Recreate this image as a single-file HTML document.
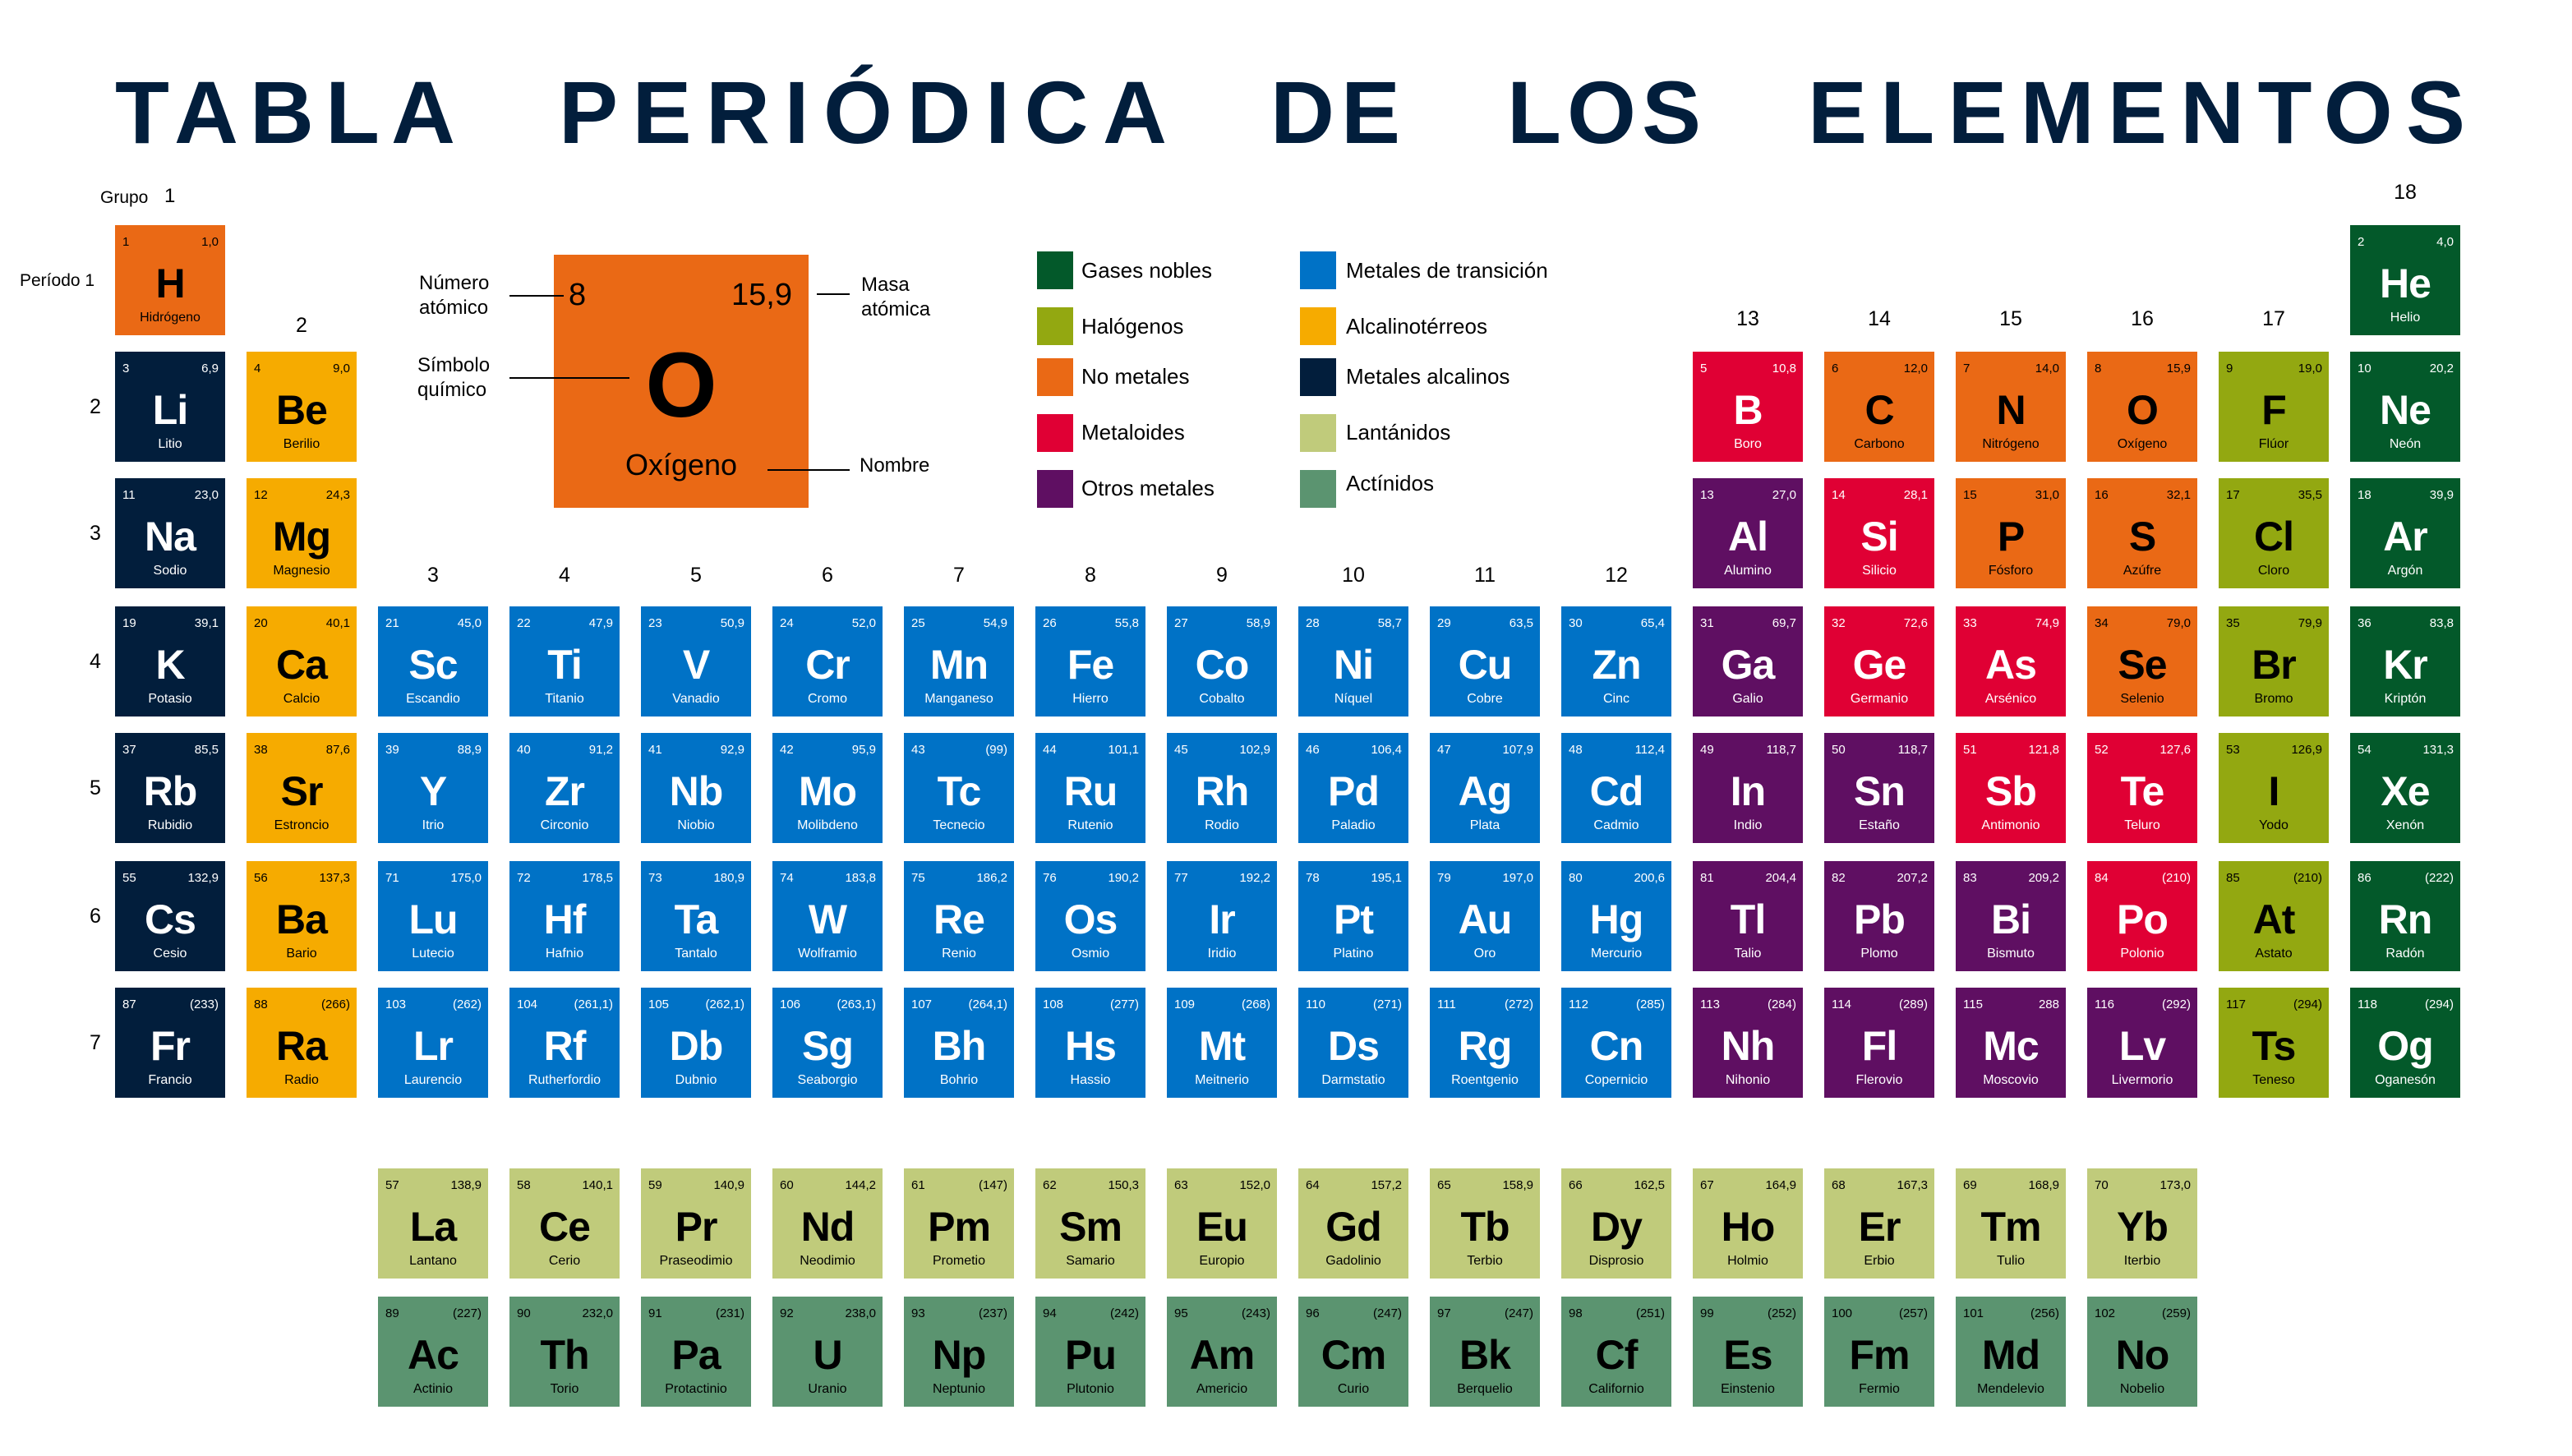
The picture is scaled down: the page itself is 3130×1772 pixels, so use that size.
<!DOCTYPE html>
<html><head><meta charset="utf-8">
<style>
*{box-sizing:border-box}
body{margin:0;width:3130px;height:1772px;background:#fff;position:relative;overflow:hidden;font-family:"Liberation Sans",sans-serif;color:#000}
.c{position:absolute;width:134px;height:134px;color:#000}
.c i{position:absolute;left:9px;top:13px;font:15px/15px "Liberation Sans",sans-serif;font-style:normal}
.c b{position:absolute;right:8px;top:13px;font:15px/15px "Liberation Sans",sans-serif;font-weight:normal}
.c p{position:absolute;left:0;right:0;top:46px;margin:0;text-align:center;font:bold 50px/50px "Liberation Sans",sans-serif;letter-spacing:-1px}
.c u{position:absolute;left:0;right:0;top:104px;text-align:center;font:16px/17px "Liberation Sans",sans-serif;text-decoration:none}
.am{background:#021e3c;color:#fff}
.ae{background:#f6ab00}
.tm{background:#0072c6;color:#fff}
.nm{background:#ea6915}
.hal{background:#93a811}
.ng{background:#03592a;color:#fff}
.md{background:#e00034;color:#fff}
.om{background:#5f0f62;color:#fff}
.la{background:#c0cb7b}
.ac{background:#5b9470}
.t{position:absolute;font-size:24px;line-height:24px;color:#000}
.g{position:absolute;font-size:25px;line-height:25px;width:60px;text-align:center}
.lg{position:absolute;width:44px;height:46px}
.lt{position:absolute;font-size:26px;line-height:26px}
.ln{position:absolute;height:2px;background:#000}
</style></head><body>

<svg style="position:absolute;left:0;top:0" width="3130" height="220">
<g font-family="Liberation Sans, sans-serif" font-weight="bold" font-size="108" fill="#021e3c">
<text x="140" y="174" textLength="414" lengthAdjust="spacing">TABLA</text>
<text x="680" y="174" textLength="740" lengthAdjust="spacing">PERIÓDICA</text>
<text x="1546" y="174" textLength="158" lengthAdjust="spacing">DE</text>
<text x="1834" y="174" textLength="236" lengthAdjust="spacing">LOS</text>
<text x="2200" y="174" textLength="800" lengthAdjust="spacing">ELEMENTOS</text>
</g></svg>

<!-- group/period labels -->
<div class="t" style="left:122px;top:229px;font-size:21px">Grupo</div>
<div class="t" style="left:200px;top:227px">1</div>
<div class="t" style="left:24px;top:330px;font-size:21px">Período 1</div>
<div class="g" style="left:337px;top:384px">2</div>
<div class="g" style="left:497px;top:688px">3</div>
<div class="g" style="left:657px;top:688px">4</div>
<div class="g" style="left:817px;top:688px">5</div>
<div class="g" style="left:977px;top:688px">6</div>
<div class="g" style="left:1137px;top:688px">7</div>
<div class="g" style="left:1297px;top:688px">8</div>
<div class="g" style="left:1457px;top:688px">9</div>
<div class="g" style="left:1617px;top:688px">10</div>
<div class="g" style="left:1777px;top:688px">11</div>
<div class="g" style="left:1937px;top:688px">12</div>
<div class="g" style="left:2097px;top:376px">13</div>
<div class="g" style="left:2257px;top:376px">14</div>
<div class="g" style="left:2417px;top:376px">15</div>
<div class="g" style="left:2577px;top:376px">16</div>
<div class="g" style="left:2737px;top:376px">17</div>
<div class="g" style="left:2897px;top:222px">18</div>
<div class="g" style="left:86px;top:483px">2</div>
<div class="g" style="left:86px;top:637px">3</div>
<div class="g" style="left:86px;top:793px">4</div>
<div class="g" style="left:86px;top:947px">5</div>
<div class="g" style="left:86px;top:1103px">6</div>
<div class="g" style="left:86px;top:1257px">7</div>

<!-- example -->
<div style="position:absolute;left:674px;top:310px;width:310px;height:308px;background:#ea6915"></div>
<div style="position:absolute;left:692px;top:340px;font-size:38px;line-height:38px">8</div>
<div style="position:absolute;left:864px;top:340px;width:100px;text-align:right;font-size:38px;line-height:38px">15,9</div>
<div style="position:absolute;left:674px;top:413px;width:310px;text-align:center;font-weight:bold;font-size:112px;line-height:112px">O</div>
<div style="position:absolute;left:674px;top:548px;width:310px;text-align:center;font-size:36px;line-height:36px">Oxígeno</div>
<div class="t" style="left:510px;top:333px">Número</div>
<div class="t" style="left:510px;top:363px">atómico</div>
<div class="ln" style="left:620px;top:359px;width:66px"></div>
<div class="t" style="left:508px;top:433px">Símbolo</div>
<div class="t" style="left:508px;top:463px">químico</div>
<div class="ln" style="left:620px;top:459px;width:146px"></div>
<div class="t" style="left:1048px;top:335px">Masa</div>
<div class="t" style="left:1048px;top:365px">atómica</div>
<div class="ln" style="left:994px;top:357px;width:40px"></div>
<div class="t" style="left:1046px;top:555px">Nombre</div>
<div class="ln" style="left:934px;top:571px;width:100px"></div>

<!-- legend -->
<div class="lg" style="left:1262px;top:306px;background:#03592a"></div><div class="lt" style="left:1316px;top:316px">Gases nobles</div>
<div class="lg" style="left:1262px;top:374px;background:#93a811"></div><div class="lt" style="left:1316px;top:384px">Halógenos</div>
<div class="lg" style="left:1262px;top:436px;background:#ea6915"></div><div class="lt" style="left:1316px;top:445px">No metales</div>
<div class="lg" style="left:1262px;top:504px;background:#e00034"></div><div class="lt" style="left:1316px;top:513px">Metaloides</div>
<div class="lg" style="left:1262px;top:572px;background:#5f0f62"></div><div class="lt" style="left:1316px;top:581px">Otros metales</div>
<div class="lg" style="left:1582px;top:306px;background:#0072c6"></div><div class="lt" style="left:1638px;top:316px">Metales de transición</div>
<div class="lg" style="left:1582px;top:374px;background:#f6ab00"></div><div class="lt" style="left:1638px;top:384px">Alcalinotérreos</div>
<div class="lg" style="left:1582px;top:436px;background:#021e3c"></div><div class="lt" style="left:1638px;top:445px">Metales alcalinos</div>
<div class="lg" style="left:1582px;top:504px;background:#c0cb7b"></div><div class="lt" style="left:1638px;top:513px">Lantánidos</div>
<div class="lg" style="left:1582px;top:572px;background:#5b9470"></div><div class="lt" style="left:1638px;top:575px">Actínidos</div>

<!-- row 1 -->
<div class="c nm" style="left:140px;top:274px"><i>1</i><b>1,0</b><p>H</p><u>Hidrógeno</u></div>
<div class="c ng" style="left:2860px;top:274px"><i>2</i><b>4,0</b><p>He</p><u>Helio</u></div>
<!-- row 2 -->
<div class="c am" style="left:140px;top:428px"><i>3</i><b>6,9</b><p>Li</p><u>Litio</u></div>
<div class="c ae" style="left:300px;top:428px"><i>4</i><b>9,0</b><p>Be</p><u>Berilio</u></div>
<div class="c md" style="left:2060px;top:428px"><i>5</i><b>10,8</b><p>B</p><u>Boro</u></div>
<div class="c nm" style="left:2220px;top:428px"><i>6</i><b>12,0</b><p>C</p><u>Carbono</u></div>
<div class="c nm" style="left:2380px;top:428px"><i>7</i><b>14,0</b><p>N</p><u>Nitrógeno</u></div>
<div class="c nm" style="left:2540px;top:428px"><i>8</i><b>15,9</b><p>O</p><u>Oxígeno</u></div>
<div class="c hal" style="left:2700px;top:428px"><i>9</i><b>19,0</b><p>F</p><u>Flúor</u></div>
<div class="c ng" style="left:2860px;top:428px"><i>10</i><b>20,2</b><p>Ne</p><u>Neón</u></div>
<!-- row 3 -->
<div class="c am" style="left:140px;top:582px"><i>11</i><b>23,0</b><p>Na</p><u>Sodio</u></div>
<div class="c ae" style="left:300px;top:582px"><i>12</i><b>24,3</b><p>Mg</p><u>Magnesio</u></div>
<div class="c om" style="left:2060px;top:582px"><i>13</i><b>27,0</b><p>Al</p><u>Alumino</u></div>
<div class="c md" style="left:2220px;top:582px"><i>14</i><b>28,1</b><p>Si</p><u>Silicio</u></div>
<div class="c nm" style="left:2380px;top:582px"><i>15</i><b>31,0</b><p>P</p><u>Fósforo</u></div>
<div class="c nm" style="left:2540px;top:582px"><i>16</i><b>32,1</b><p>S</p><u>Azúfre</u></div>
<div class="c hal" style="left:2700px;top:582px"><i>17</i><b>35,5</b><p>Cl</p><u>Cloro</u></div>
<div class="c ng" style="left:2860px;top:582px"><i>18</i><b>39,9</b><p>Ar</p><u>Argón</u></div>
<!-- row 4 -->
<div class="c am" style="left:140px;top:738px"><i>19</i><b>39,1</b><p>K</p><u>Potasio</u></div>
<div class="c ae" style="left:300px;top:738px"><i>20</i><b>40,1</b><p>Ca</p><u>Calcio</u></div>
<div class="c tm" style="left:460px;top:738px"><i>21</i><b>45,0</b><p>Sc</p><u>Escandio</u></div>
<div class="c tm" style="left:620px;top:738px"><i>22</i><b>47,9</b><p>Ti</p><u>Titanio</u></div>
<div class="c tm" style="left:780px;top:738px"><i>23</i><b>50,9</b><p>V</p><u>Vanadio</u></div>
<div class="c tm" style="left:940px;top:738px"><i>24</i><b>52,0</b><p>Cr</p><u>Cromo</u></div>
<div class="c tm" style="left:1100px;top:738px"><i>25</i><b>54,9</b><p>Mn</p><u>Manganeso</u></div>
<div class="c tm" style="left:1260px;top:738px"><i>26</i><b>55,8</b><p>Fe</p><u>Hierro</u></div>
<div class="c tm" style="left:1420px;top:738px"><i>27</i><b>58,9</b><p>Co</p><u>Cobalto</u></div>
<div class="c tm" style="left:1580px;top:738px"><i>28</i><b>58,7</b><p>Ni</p><u>Níquel</u></div>
<div class="c tm" style="left:1740px;top:738px"><i>29</i><b>63,5</b><p>Cu</p><u>Cobre</u></div>
<div class="c tm" style="left:1900px;top:738px"><i>30</i><b>65,4</b><p>Zn</p><u>Cinc</u></div>
<div class="c om" style="left:2060px;top:738px"><i>31</i><b>69,7</b><p>Ga</p><u>Galio</u></div>
<div class="c md" style="left:2220px;top:738px"><i>32</i><b>72,6</b><p>Ge</p><u>Germanio</u></div>
<div class="c md" style="left:2380px;top:738px"><i>33</i><b>74,9</b><p>As</p><u>Arsénico</u></div>
<div class="c nm" style="left:2540px;top:738px"><i>34</i><b>79,0</b><p>Se</p><u>Selenio</u></div>
<div class="c hal" style="left:2700px;top:738px"><i>35</i><b>79,9</b><p>Br</p><u>Bromo</u></div>
<div class="c ng" style="left:2860px;top:738px"><i>36</i><b>83,8</b><p>Kr</p><u>Kriptón</u></div>
<!-- row 5 -->
<div class="c am" style="left:140px;top:892px"><i>37</i><b>85,5</b><p>Rb</p><u>Rubidio</u></div>
<div class="c ae" style="left:300px;top:892px"><i>38</i><b>87,6</b><p>Sr</p><u>Estroncio</u></div>
<div class="c tm" style="left:460px;top:892px"><i>39</i><b>88,9</b><p>Y</p><u>Itrio</u></div>
<div class="c tm" style="left:620px;top:892px"><i>40</i><b>91,2</b><p>Zr</p><u>Circonio</u></div>
<div class="c tm" style="left:780px;top:892px"><i>41</i><b>92,9</b><p>Nb</p><u>Niobio</u></div>
<div class="c tm" style="left:940px;top:892px"><i>42</i><b>95,9</b><p>Mo</p><u>Molibdeno</u></div>
<div class="c tm" style="left:1100px;top:892px"><i>43</i><b>(99)</b><p>Tc</p><u>Tecnecio</u></div>
<div class="c tm" style="left:1260px;top:892px"><i>44</i><b>101,1</b><p>Ru</p><u>Rutenio</u></div>
<div class="c tm" style="left:1420px;top:892px"><i>45</i><b>102,9</b><p>Rh</p><u>Rodio</u></div>
<div class="c tm" style="left:1580px;top:892px"><i>46</i><b>106,4</b><p>Pd</p><u>Paladio</u></div>
<div class="c tm" style="left:1740px;top:892px"><i>47</i><b>107,9</b><p>Ag</p><u>Plata</u></div>
<div class="c tm" style="left:1900px;top:892px"><i>48</i><b>112,4</b><p>Cd</p><u>Cadmio</u></div>
<div class="c om" style="left:2060px;top:892px"><i>49</i><b>118,7</b><p>In</p><u>Indio</u></div>
<div class="c om" style="left:2220px;top:892px"><i>50</i><b>118,7</b><p>Sn</p><u>Estaño</u></div>
<div class="c md" style="left:2380px;top:892px"><i>51</i><b>121,8</b><p>Sb</p><u>Antimonio</u></div>
<div class="c md" style="left:2540px;top:892px"><i>52</i><b>127,6</b><p>Te</p><u>Teluro</u></div>
<div class="c hal" style="left:2700px;top:892px"><i>53</i><b>126,9</b><p>I</p><u>Yodo</u></div>
<div class="c ng" style="left:2860px;top:892px"><i>54</i><b>131,3</b><p>Xe</p><u>Xenón</u></div>
<!-- row 6 -->
<div class="c am" style="left:140px;top:1048px"><i>55</i><b>132,9</b><p>Cs</p><u>Cesio</u></div>
<div class="c ae" style="left:300px;top:1048px"><i>56</i><b>137,3</b><p>Ba</p><u>Bario</u></div>
<div class="c tm" style="left:460px;top:1048px"><i>71</i><b>175,0</b><p>Lu</p><u>Lutecio</u></div>
<div class="c tm" style="left:620px;top:1048px"><i>72</i><b>178,5</b><p>Hf</p><u>Hafnio</u></div>
<div class="c tm" style="left:780px;top:1048px"><i>73</i><b>180,9</b><p>Ta</p><u>Tantalo</u></div>
<div class="c tm" style="left:940px;top:1048px"><i>74</i><b>183,8</b><p>W</p><u>Wolframio</u></div>
<div class="c tm" style="left:1100px;top:1048px"><i>75</i><b>186,2</b><p>Re</p><u>Renio</u></div>
<div class="c tm" style="left:1260px;top:1048px"><i>76</i><b>190,2</b><p>Os</p><u>Osmio</u></div>
<div class="c tm" style="left:1420px;top:1048px"><i>77</i><b>192,2</b><p>Ir</p><u>Iridio</u></div>
<div class="c tm" style="left:1580px;top:1048px"><i>78</i><b>195,1</b><p>Pt</p><u>Platino</u></div>
<div class="c tm" style="left:1740px;top:1048px"><i>79</i><b>197,0</b><p>Au</p><u>Oro</u></div>
<div class="c tm" style="left:1900px;top:1048px"><i>80</i><b>200,6</b><p>Hg</p><u>Mercurio</u></div>
<div class="c om" style="left:2060px;top:1048px"><i>81</i><b>204,4</b><p>Tl</p><u>Talio</u></div>
<div class="c om" style="left:2220px;top:1048px"><i>82</i><b>207,2</b><p>Pb</p><u>Plomo</u></div>
<div class="c om" style="left:2380px;top:1048px"><i>83</i><b>209,2</b><p>Bi</p><u>Bismuto</u></div>
<div class="c md" style="left:2540px;top:1048px"><i>84</i><b>(210)</b><p>Po</p><u>Polonio</u></div>
<div class="c hal" style="left:2700px;top:1048px"><i>85</i><b>(210)</b><p>At</p><u>Astato</u></div>
<div class="c ng" style="left:2860px;top:1048px"><i>86</i><b>(222)</b><p>Rn</p><u>Radón</u></div>
<!-- row 7 -->
<div class="c am" style="left:140px;top:1202px"><i>87</i><b>(233)</b><p>Fr</p><u>Francio</u></div>
<div class="c ae" style="left:300px;top:1202px"><i>88</i><b>(266)</b><p>Ra</p><u>Radio</u></div>
<div class="c tm" style="left:460px;top:1202px"><i>103</i><b>(262)</b><p>Lr</p><u>Laurencio</u></div>
<div class="c tm" style="left:620px;top:1202px"><i>104</i><b>(261,1)</b><p>Rf</p><u>Rutherfordio</u></div>
<div class="c tm" style="left:780px;top:1202px"><i>105</i><b>(262,1)</b><p>Db</p><u>Dubnio</u></div>
<div class="c tm" style="left:940px;top:1202px"><i>106</i><b>(263,1)</b><p>Sg</p><u>Seaborgio</u></div>
<div class="c tm" style="left:1100px;top:1202px"><i>107</i><b>(264,1)</b><p>Bh</p><u>Bohrio</u></div>
<div class="c tm" style="left:1260px;top:1202px"><i>108</i><b>(277)</b><p>Hs</p><u>Hassio</u></div>
<div class="c tm" style="left:1420px;top:1202px"><i>109</i><b>(268)</b><p>Mt</p><u>Meitnerio</u></div>
<div class="c tm" style="left:1580px;top:1202px"><i>110</i><b>(271)</b><p>Ds</p><u>Darmstatio</u></div>
<div class="c tm" style="left:1740px;top:1202px"><i>111</i><b>(272)</b><p>Rg</p><u>Roentgenio</u></div>
<div class="c tm" style="left:1900px;top:1202px"><i>112</i><b>(285)</b><p>Cn</p><u>Copernicio</u></div>
<div class="c om" style="left:2060px;top:1202px"><i>113</i><b>(284)</b><p>Nh</p><u>Nihonio</u></div>
<div class="c om" style="left:2220px;top:1202px"><i>114</i><b>(289)</b><p>Fl</p><u>Flerovio</u></div>
<div class="c om" style="left:2380px;top:1202px"><i>115</i><b>288</b><p>Mc</p><u>Moscovio</u></div>
<div class="c om" style="left:2540px;top:1202px"><i>116</i><b>(292)</b><p>Lv</p><u>Livermorio</u></div>
<div class="c hal" style="left:2700px;top:1202px"><i>117</i><b>(294)</b><p>Ts</p><u>Teneso</u></div>
<div class="c ng" style="left:2860px;top:1202px"><i>118</i><b>(294)</b><p>Og</p><u>Oganesón</u></div>
<!-- lanthanides -->
<div class="c la" style="left:460px;top:1422px"><i>57</i><b>138,9</b><p>La</p><u>Lantano</u></div>
<div class="c la" style="left:620px;top:1422px"><i>58</i><b>140,1</b><p>Ce</p><u>Cerio</u></div>
<div class="c la" style="left:780px;top:1422px"><i>59</i><b>140,9</b><p>Pr</p><u>Praseodimio</u></div>
<div class="c la" style="left:940px;top:1422px"><i>60</i><b>144,2</b><p>Nd</p><u>Neodimio</u></div>
<div class="c la" style="left:1100px;top:1422px"><i>61</i><b>(147)</b><p>Pm</p><u>Prometio</u></div>
<div class="c la" style="left:1260px;top:1422px"><i>62</i><b>150,3</b><p>Sm</p><u>Samario</u></div>
<div class="c la" style="left:1420px;top:1422px"><i>63</i><b>152,0</b><p>Eu</p><u>Europio</u></div>
<div class="c la" style="left:1580px;top:1422px"><i>64</i><b>157,2</b><p>Gd</p><u>Gadolinio</u></div>
<div class="c la" style="left:1740px;top:1422px"><i>65</i><b>158,9</b><p>Tb</p><u>Terbio</u></div>
<div class="c la" style="left:1900px;top:1422px"><i>66</i><b>162,5</b><p>Dy</p><u>Disprosio</u></div>
<div class="c la" style="left:2060px;top:1422px"><i>67</i><b>164,9</b><p>Ho</p><u>Holmio</u></div>
<div class="c la" style="left:2220px;top:1422px"><i>68</i><b>167,3</b><p>Er</p><u>Erbio</u></div>
<div class="c la" style="left:2380px;top:1422px"><i>69</i><b>168,9</b><p>Tm</p><u>Tulio</u></div>
<div class="c la" style="left:2540px;top:1422px"><i>70</i><b>173,0</b><p>Yb</p><u>Iterbio</u></div>
<!-- actinides -->
<div class="c ac" style="left:460px;top:1578px"><i>89</i><b>(227)</b><p>Ac</p><u>Actinio</u></div>
<div class="c ac" style="left:620px;top:1578px"><i>90</i><b>232,0</b><p>Th</p><u>Torio</u></div>
<div class="c ac" style="left:780px;top:1578px"><i>91</i><b>(231)</b><p>Pa</p><u>Protactinio</u></div>
<div class="c ac" style="left:940px;top:1578px"><i>92</i><b>238,0</b><p>U</p><u>Uranio</u></div>
<div class="c ac" style="left:1100px;top:1578px"><i>93</i><b>(237)</b><p>Np</p><u>Neptunio</u></div>
<div class="c ac" style="left:1260px;top:1578px"><i>94</i><b>(242)</b><p>Pu</p><u>Plutonio</u></div>
<div class="c ac" style="left:1420px;top:1578px"><i>95</i><b>(243)</b><p>Am</p><u>Americio</u></div>
<div class="c ac" style="left:1580px;top:1578px"><i>96</i><b>(247)</b><p>Cm</p><u>Curio</u></div>
<div class="c ac" style="left:1740px;top:1578px"><i>97</i><b>(247)</b><p>Bk</p><u>Berquelio</u></div>
<div class="c ac" style="left:1900px;top:1578px"><i>98</i><b>(251)</b><p>Cf</p><u>Californio</u></div>
<div class="c ac" style="left:2060px;top:1578px"><i>99</i><b>(252)</b><p>Es</p><u>Einstenio</u></div>
<div class="c ac" style="left:2220px;top:1578px"><i>100</i><b>(257)</b><p>Fm</p><u>Fermio</u></div>
<div class="c ac" style="left:2380px;top:1578px"><i>101</i><b>(256)</b><p>Md</p><u>Mendelevio</u></div>
<div class="c ac" style="left:2540px;top:1578px"><i>102</i><b>(259)</b><p>No</p><u>Nobelio</u></div>
</body></html>
